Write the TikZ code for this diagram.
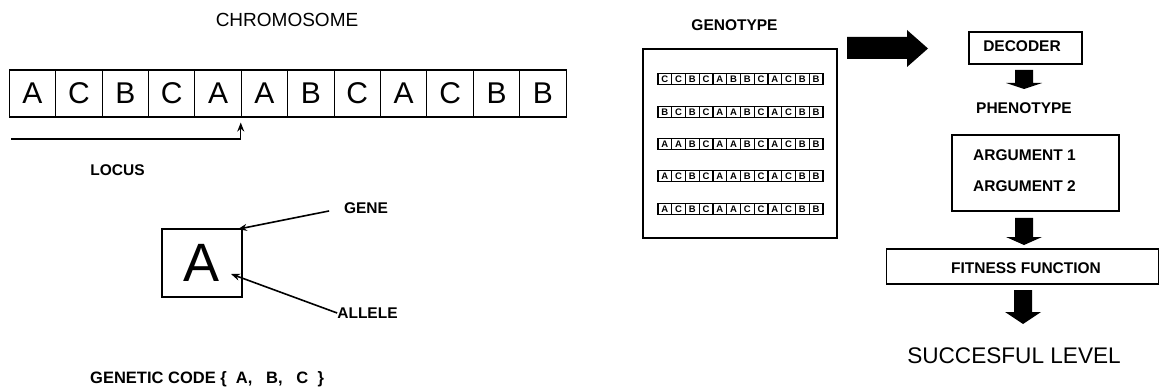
\documentclass[tikz,border=0pt]{standalone}
\usepackage{fontspec}
\setmainfont{Liberation Sans}
\usetikzlibrary{arrows.meta}
\newcommand{\fs}[1]{\fontsize{#1}{#1}\selectfont}
\tikzset{
  lbl/.style={font=\bfseries\fs{15.5}, inner sep=0pt},
  cell/.style={draw, line width=1.1pt, minimum width=46.4pt, minimum height=47pt,
               inner sep=0pt, font=\fs{30}},
  minicell/.style={draw, line width=1.1pt, minimum width=13.75pt, minimum height=11pt,
                   inner sep=0pt, font=\bfseries\fs{9.5}},
  frame/.style={draw, line width=1.6pt},
  thinarrow/.style={line width=1.6pt, -{Stealth[length=9pt,width=7pt]}},
  block/.style={fill=black},
}
\begin{document}
\begin{tikzpicture}[x=1pt,y=-1pt]
\useasboundingbox (0,0) rectangle (1159,390);

% ---------- chromosome ----------
\node[font=\fs{19}, inner sep=0pt] (chromo) at (287,20) {CHROMOSOME};
\foreach \L [count=\i] in {A,C,B,C,A,A,B,C,A,C,B,B}
  \node[cell] (c\i) at ({9.3+46.4*(\i-0.5)},93.5) {\L};

% locus pointer
\coordinate (locstart) at (11,139);
\draw[thinarrow, line width=1.4pt, shorten >=5pt] (locstart) -| (c6.south west);
\node[lbl] (locus) at (117.5,170) {LOCUS};

% ---------- gene and allele ----------
\node[frame, minimum width=80pt, minimum height=68pt, inner sep=0pt,
      font=\fs{54}] (gene) at (202,263) {A};
\node[lbl] (genelbl) at (366,208) {GENE};
\node[lbl] (allelelbl) at (367.5,313) {ALLELE};
\coordinate (alleletip) at (231,274);
\draw[thinarrow, shorten <=15pt, shorten >=-5pt] (genelbl.west) -- (gene.north east);
\draw[thinarrow] (allelelbl.west) -- (alleletip);

\node[lbl, font=\bfseries\fs{16.5}, anchor=west] (code) at (90,379)
  {GENETIC CODE \{\ \ A,\ \ \ B,\ \ \ C \ \}};

% ---------- genotype ----------
\node[lbl] (genotype) at (734.5,25) {GENOTYPE};
\node[frame, minimum width=194pt, minimum height=189pt, inner sep=0pt] (geno) at (740,143.5) {};
\foreach \row/\y in {{C,C,B,C,A,B,B,C,A,C,B,B}/79,
                     {B,C,B,C,A,A,B,C,A,C,B,B}/112,
                     {A,A,B,C,A,A,B,C,A,C,B,B}/144,
                     {A,C,B,C,A,A,B,C,A,C,B,B}/176,
                     {A,C,B,C,A,A,C,C,A,C,B,B}/209}
  \foreach \L [count=\i] in \row
    \node[minicell] (g\y-\i) at ({658+13.75*(\i-0.5)},\y) {\L};

% big arrow from genotype to decoder
\fill[block] (847,37) -- (907,37) -- (907,30) -- (928,48.5) -- (907,67)
             -- (907,59) -- (847,59) -- cycle;

% ---------- decoding chain ----------
\node[frame, minimum width=113pt, minimum height=32pt, inner sep=0pt] (decoder) at (1025.5,48) {};
\node[lbl] (declbl) at (1022,46) {DECODER};
\node[lbl] (pheno) at (1024,108) {PHENOTYPE};
\node[frame, minimum width=167pt, minimum height=76pt, inner sep=0pt] (args) at (1035.5,173) {};
\node[lbl, anchor=west] (arg1) at (973,155) {ARGUMENT 1};
\node[lbl, anchor=west] (arg2) at (973,186) {ARGUMENT 2};
\node[draw, line width=1.2pt, minimum width=272pt, minimum height=35pt, inner sep=0pt] (fitness) at (1022.5,266.5) {};
\node[lbl] (fitlbl) at (1026,268) {FITNESS FUNCTION};
\node[font=\fs{22.6}, inner sep=0pt] (success) at (1014,356) {SUCCESFUL LEVEL};

% block arrows down the chain
\foreach \cx/\top/\base/\tip in {1024/70/83/89, 1024/218/237/245, 1023/290/312/324}
  \fill[block] (\cx-9,\top) -- (\cx+9,\top) -- (\cx+9,\base) -- (\cx+18,\base)
               -- (\cx,\tip) -- (\cx-18,\base) -- (\cx-9,\base) -- cycle;
\end{tikzpicture}
\end{document}
